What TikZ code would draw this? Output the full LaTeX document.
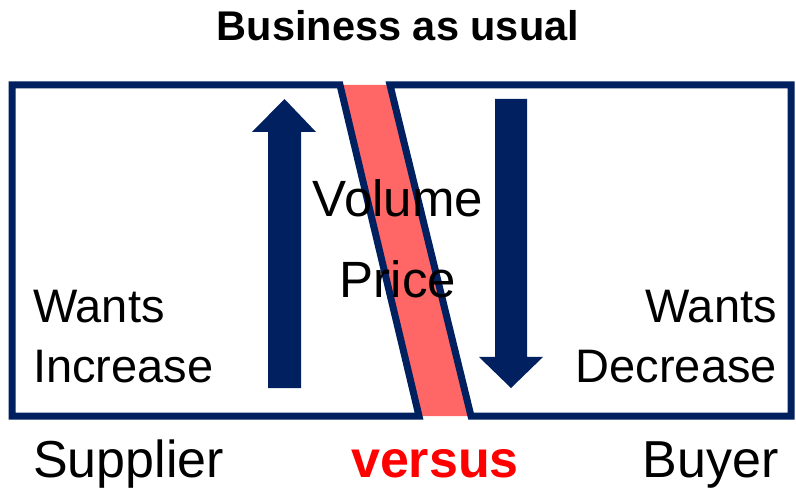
\documentclass[tikz,border=0pt]{standalone}
\usepackage{fontspec}
\setmainfont{Liberation Sans}
\usetikzlibrary{positioning}
\definecolor{navyblue}{RGB}{0,32,96}
\definecolor{bandred}{RGB}{255,102,102}
\definecolor{versusred}{RGB}{255,0,0}
\tikzset{
  sidebox/.style={draw=navyblue, line width=7pt, fill=white, line join=miter},
  bigarrow/.style={fill=navyblue},
  txt/.style={inner sep=0pt, font=\fontsize{47}{56}\selectfont},
  bigtxt/.style={inner sep=0pt, font=\fontsize{51}{60}\selectfont},
}

\begin{document}
\begin{tikzpicture}[x=1pt, y=-1pt]
\useasboundingbox (0,0) rectangle (796,489);
%%% title %%%
      \node[inner sep=0pt, anchor=base, font=\bfseries\fontsize{41.5}{48}\selectfont] (title) at (398,41) {Business as usual};

      %% red band between the two sides
      \fill[bandred] (340,85) -- (390,85) -- (471,416) -- (419,416) -- cycle;
      %% supplier side and buyer side
      \draw[sidebox] (12,85) -- (340,85) -- (419,416) -- (12,416) -- cycle;
      \draw[sidebox] (390,85) -- (791,85) -- (791,416) -- (471,416) -- cycle;

      %% up arrow and down arrow
      \fill[bigarrow] (268,388) -- (268,132) -- (252,132) -- (284.5,99)
        -- (316,132) -- (301,132) -- (301,388) -- cycle;
      \fill[bigarrow] (495,99) -- (495,357) -- (479,357) -- (511,388)
        -- (543,357) -- (527,357) -- (527,99) -- cycle;

      %% texts
      \node[bigtxt, anchor=base] (volume) at (398,217) {Volume};
      \node[bigtxt, anchor=base] (price) at (398,298) {Price};

      \node[txt, anchor=base west] (wantsup) at (33,323) {Wants};
      \node[txt, anchor=base west] (increase) at (33,382) {Increase};
      \node[txt, anchor=base east] (wantsdown) at (777,323) {Wants};
      \node[txt, anchor=base east] (decrease) at (777,382) {Decrease};

      %% the two parties
      \node[inner sep=0pt, anchor=base west, font=\fontsize{52}{60}\selectfont] (supplier) at (33,477) {Supplier};
      \node[inner sep=0pt, anchor=base, text=versusred, font=\bfseries\fontsize{52}{60}\selectfont] (versus) at (435,477) {versus};
      \node[inner sep=0pt, anchor=base east, font=\fontsize{52}{60}\selectfont] (buyer) at (779,477) {Buyer};

\end{tikzpicture}
\end{document}
